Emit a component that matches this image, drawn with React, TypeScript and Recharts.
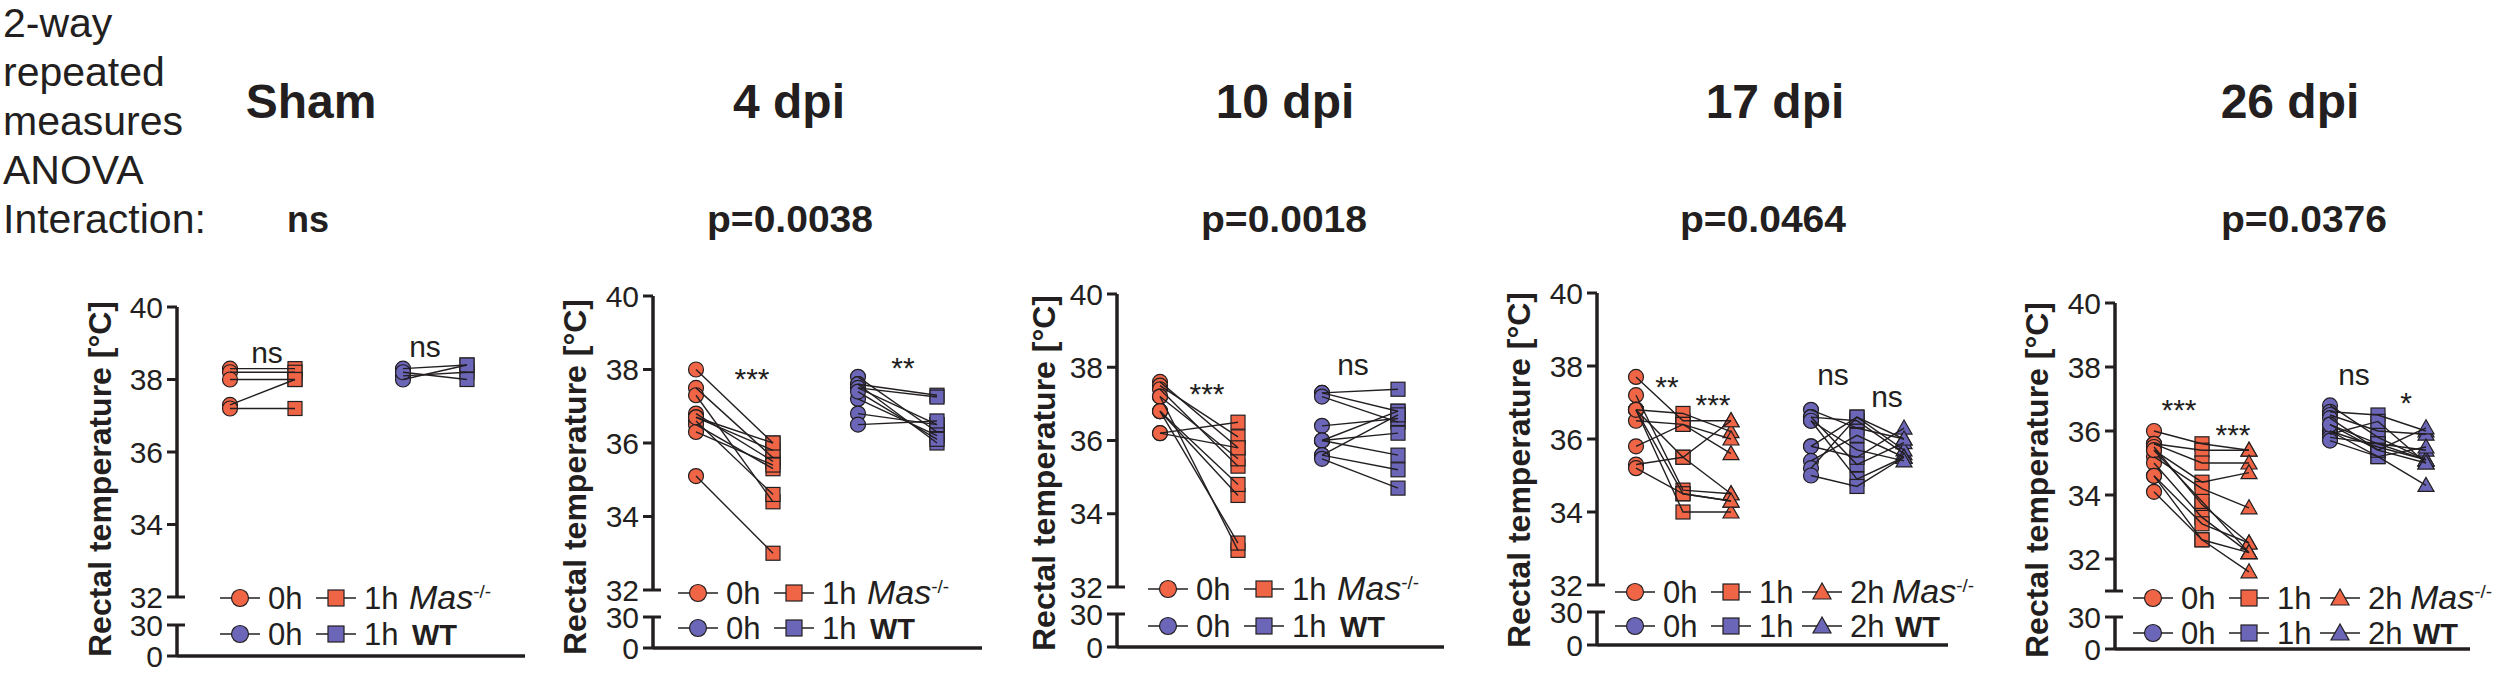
import React from "react";
import { ComposedChart, Scatter, XAxis, YAxis, ReferenceLine, ReferenceDot } from "recharts";

// ---- data (°C) ----
const panelTitles = ["Sham", "4 dpi", "10 dpi", "17 dpi", "26 dpi"];
const interactionP = ["ns", "p=0.0038", "p=0.0018", "p=0.0464", "p=0.0376"];
const anovaLines = ["2-way", "repeated", "measures", "ANOVA", "Interaction:"];
const timePoints2 = ["0h", "1h"];
const timePoints3 = ["0h", "1h", "2h"];
const upperTicks = [32, 34, 36, 38, 40];
const upperTicks26 = [31, 32, 34, 36, 38, 40];
const lowerTicks = [0, 30];

// one row per animal, one value per time point
const shamMas = [[38.3, 38.3], [38.2, 38.2], [38.0, 38.0], [37.3, 38.0], [37.2, 37.2]];
const shamWt = [[38.3, 38.4], [38.1, 38.2], [38.0, 38.4], [38.2, 38.0]];
const dpi4Mas = [[38.0, 36.0], [37.5, 35.6], [37.3, 34.4], [36.8, 35.5], [36.7, 35.8], [36.6, 34.6], [36.5, 35.3], [36.3, 35.4], [36.7, 36.0], [35.1, 33.0]];
const dpi4Wt = [[37.8, 36.3], [37.6, 37.3], [37.5, 36.5], [37.6, 36.0], [37.2, 36.2], [36.8, 36.5], [36.5, 36.6], [37.5, 37.25], [37.4, 36.1]];
const dpi10Mas = [[37.6, 35.8], [37.5, 36.1], [37.4, 35.3], [37.2, 35.5], [37.2, 33.0], [36.8, 34.5], [36.8, 33.2], [36.8, 34.8], [36.2, 36.5], [36.2, 35.8]];
const dpi10Wt = [[37.3, 37.4], [37.3, 36.8], [37.2, 36.5], [36.4, 36.6], [36.0, 36.8], [36.0, 36.2], [36.0, 35.6], [35.6, 36.7], [35.6, 35.2], [35.5, 34.7]];
const dpi17Mas = [[37.7, 36.5, 36.5], [37.2, 34.6, 34.5], [36.8, 36.7, 36.2], [36.8, 34.5, 34.3], [36.8, 34.0, 34.0], [36.5, 36.4, 35.6], [36.8, 35.5, 36.5], [35.8, 36.4, 36.0], [35.3, 35.5, 34.5], [35.2, 34.5, 34.3]];
const dpi17Wt = [[36.8, 36.3, 36.0], [36.6, 36.5, 35.6], [36.5, 34.9, 35.5], [36.6, 35.3, 35.9], [35.8, 36.6, 35.7], [35.8, 35.5, 36.3], [35.4, 36.1, 35.5], [35.2, 36.6, 36.0], [35.0, 34.7, 35.5], [36.5, 35.7, 35.4]];
const dpi26Mas = [[36.0, 35.6, 35.4], [35.6, 35.4, 35.4], [35.6, 35.0, 35.0], [35.4, 34.4, 34.7], [35.5, 33.7, 32.5], [35.2, 34.2, 33.6], [35.0, 33.3, 32.2], [34.6, 33.1, 32.5], [34.6, 32.6, 32.2], [34.1, 32.6, 31.6], [35.4, 33.8, 32.2]];
const dpi26Wt = [[36.8, 35.8, 35.1], [36.6, 36.5, 36.0], [36.5, 36.0, 35.9], [36.4, 35.4, 36.1], [36.2, 35.6, 35.4], [36.0, 35.5, 35.1], [36.0, 35.2, 34.3], [35.9, 36.3, 35.0], [35.8, 35.6, 35.1], [35.7, 35.2, 35.5], [36.2, 35.4, 35.0]];

const shamSig = ["ns", "ns"];
const dpi4Sig = ["***", "**"];
const dpi10Sig = ["***", "ns"];
const dpi17Sig = ["**", "***", "ns", "ns"];
const dpi26Sig = ["***", "***", "ns", "*"];

// ---- styling / layout ----
const FONT = '"Liberation Sans", Arial, Helvetica, sans-serif';
const INK = "#231f20";
const ORANGE = "#ef6546";
const PURPLE = "#6b66b8";
const YW = 70;
const PAD = 20;

const panels = [
  { mas: shamMas, wt: shamWt, sig: shamSig, times: timePoints2, ticks: upperTicks, yMin: 32,
    axisX: 177, y40: 307, yLow: 597, y30: 625, y0: 656, W: 348, masX: [53, 118], wtX: [226, 290],
    legendL: 240, rows: [598, 634], labelX: 111, labelY: 479, sigAt: [[90, 38.76], [248, 38.92]], titleX: 311, pX: 308 },
  { mas: dpi4Mas, wt: dpi4Wt, sig: dpi4Sig, times: timePoints2, ticks: upperTicks, yMin: 32,
    axisX: 653, y40: 296, yLow: 590, y30: 617, y0: 648, W: 329, masX: [43, 120], wtX: [205, 284],
    legendL: 698, rows: [593, 628], labelX: 586, labelY: 477, sigAt: [[99, 37.77], [250, 38.07]], titleX: 789, pX: 790 },
  { mas: dpi10Mas, wt: dpi10Wt, sig: dpi10Sig, times: timePoints2, ticks: upperTicks, yMin: 32,
    axisX: 1117, y40: 294, yLow: 587, y30: 614, y0: 647, W: 327, masX: [43, 121], wtX: [205, 281],
    legendL: 1168, rows: [589, 626], labelX: 1055, labelY: 473, sigAt: [[90, 37.3], [236, 38.09]], titleX: 1285, pX: 1284 },
  { mas: dpi17Mas, wt: dpi17Wt, sig: dpi17Sig, times: timePoints3, ticks: upperTicks, yMin: 32,
    axisX: 1597, y40: 293, yLow: 585, y30: 612, y0: 645, W: 351, masX: [39, 86, 134], wtX: [214, 260, 307],
    legendL: 1635, rows: [592, 626], labelX: 1530, labelY: 470, sigAt: [[70, 37.44], [116, 36.96], [236, 37.78], [290, 37.18]], titleX: 1775, pX: 1763 },
  { mas: dpi26Mas, wt: dpi26Wt, sig: dpi26Sig, times: timePoints3, ticks: upperTicks26, yMin: 31,
    axisX: 2115, y40: 303, yLow: 591, y30: 617, y0: 649, W: 355, masX: [39, 87, 134], wtX: [215, 263, 311],
    legendL: 2153, rows: [598, 633], labelX: 2048, labelY: 480, sigAt: [[64, 36.69], [118, 35.88], [239, 37.78], [291, 36.88]], titleX: 2290, pX: 2304 },
];

function Marker({ kind, cx, cy, fill, s }) {
  if (kind === 0) return <circle cx={cx} cy={cy} r={s + 0.5} fill={fill} stroke={INK} strokeWidth={1.2} />;
  if (kind === 1) return <rect x={cx - s} y={cy - s} width={2 * s} height={2 * s} fill={fill} stroke={INK} strokeWidth={1.2} />;
  return <polygon points={`${cx},${cy - s - 1} ${cx - s - 1},${cy + s - 1} ${cx + s + 1},${cy + s - 1}`} fill={fill} stroke={INK} strokeWidth={1.2} />;
}

const shapeFor = (kind, fill) => (p) => <Marker kind={kind} cx={p.cx} cy={p.cy} fill={fill} s={7} />;
const noShape = () => <g />;

const axisProps = {
  type: "number",
  dataKey: "y",
  width: YW,
  tickSize: 10,
  tickMargin: 4,
  interval: 0,
  axisLine: { stroke: INK, strokeWidth: 3.5 },
  tickLine: { stroke: INK, strokeWidth: 3 },
  tick: { fill: INK, fontSize: 30, fontFamily: FONT },
};

function Panel({ p }) {
  const groups = [
    { animals: p.mas, xs: p.masX, color: ORANGE },
    { animals: p.wt, xs: p.wtX, color: PURPLE },
  ];
  const chartW = YW + p.W + PAD;
  // the break section (0-30) reuses the 0h readings so the lower chart has a series to lay out its axes
  const baseRow = p.mas.map((a) => ({ x: p.masX[0], y: a[0] }));
  return (
    <>
      <div style={{ position: "absolute", left: p.axisX - YW, top: p.y40 - PAD }}>
        <ComposedChart width={chartW} height={p.yLow - p.y40 + 2 * PAD} margin={{ top: PAD, right: PAD, bottom: PAD, left: 0 }}>
          <XAxis type="number" dataKey="x" domain={[0, p.W]} hide />
          <YAxis {...axisProps} domain={[p.yMin, 40]} ticks={p.ticks} tickFormatter={(v) => (v === 31 ? "" : String(v))} />
          <ReferenceLine segment={[{ x: 0, y: p.yMin }, { x: 8, y: p.yMin }]} stroke={INK} strokeWidth={3} />
          {groups.map((g, gi) =>
            p.times.map((t, ti) => (
              <Scatter
                key={`m${gi}${t}`}
                data={g.animals.map((a) => ({ x: g.xs[ti], y: a[ti] }))}
                shape={shapeFor(ti, g.color)}
                isAnimationActive={false}
              />
            ))
          )}
          {groups.map((g, gi) =>
            g.animals.map((a, ai) => (
              <Scatter
                key={`l${gi}-${ai}`}
                data={a.map((v, ti) => ({ x: g.xs[ti], y: v }))}
                line={{ stroke: INK, strokeWidth: 1.4 }}
                shape={noShape}
                isAnimationActive={false}
              />
            ))
          )}
          {p.sig.map((s, i) => (
            <ReferenceDot
              key={`s${i}`}
              x={p.sigAt[i][0]}
              y={p.sigAt[i][1]}
              r={1}
              fill="none"
              stroke="none"
              label={{ value: s, position: "center", fill: INK, fontSize: 30, fontFamily: FONT }}
            />
          ))}
        </ComposedChart>
      </div>
      <div style={{ position: "absolute", left: p.axisX - YW, top: p.y30 - PAD }}>
        <ComposedChart width={chartW} height={p.y0 - p.y30 + 2 * PAD} margin={{ top: PAD, right: PAD, bottom: PAD - 1, left: 0 }}>
          <XAxis type="number" dataKey="x" domain={[0, p.W]} height={1} tick={false} tickLine={false} axisLine={{ stroke: INK, strokeWidth: 3.5 }} />
          <YAxis {...axisProps} domain={[0, 30]} ticks={lowerTicks} allowDataOverflow />
          <Scatter data={baseRow} shape={noShape} isAnimationActive={false} />
          <ReferenceLine segment={[{ x: 0, y: 30 }, { x: 8, y: 30 }]} stroke={INK} strokeWidth={3} />
        </ComposedChart>
      </div>
    </>
  );
}

function LegendRows({ p }) {
  const three = p.times.length === 3;
  const step = [0, 96, 187];
  const labelOff = three ? 257 : 169;
  return (
    <g fontFamily={FONT} fill={INK} fontSize={31}>
      {[ORANGE, PURPLE].map((c, ri) => {
        const cy = p.rows[ri];
        return (
          <g key={ri}>
            {p.times.map((t, ti) => {
              const cx = p.legendL + step[ti];
              return (
                <g key={t}>
                  <line x1={cx - 20} x2={cx + 20} y1={cy} y2={cy} stroke={INK} strokeWidth={1.5} />
                  <Marker kind={ti} cx={cx} cy={cy} fill={c} s={8} />
                  <text x={cx + 28} y={cy + 11}>{t}</text>
                </g>
              );
            })}
            {ri === 0 ? (
              <text x={p.legendL + labelOff} y={cy + 11} fontStyle="italic" fontSize={34}>
                Mas<tspan fontSize={19} dy={-11} fontStyle="normal">-/-</tspan>
              </text>
            ) : (
              <text x={p.legendL + labelOff + 3} y={cy + 11} fontWeight="bold" fontSize={29}>WT</text>
            )}
          </g>
        );
      })}
    </g>
  );
}

export default function App() {
  return (
    <div style={{ position: "absolute", left: 0, top: 0, width: 2500, height: 681, background: "#fff", overflow: "hidden" }}>
      {panels.map((p, i) => (
        <Panel key={i} p={p} />
      ))}
      <svg width={2500} height={681} style={{ position: "absolute", left: 0, top: 0, pointerEvents: "none" }}>
        <g fontFamily={FONT} fill={INK}>
          {anovaLines.map((t, i) => (
            <text key={t} x={3} y={37 + i * 49} fontSize={41}>{t}</text>
          ))}
          {panels.map((p, i) => (
            <g key={i}>
              <text x={p.titleX} y={118} fontSize={48} fontWeight="bold" textAnchor="middle">{panelTitles[i]}</text>
              {i === 0 ? (
                <text x={p.pX} y={232} fontSize={36} fontWeight="bold" textAnchor="middle">{interactionP[i]}</text>
              ) : (
                <text x={p.pX} y={232} fontSize={36} fontWeight="bold" textAnchor="middle" textLength={166} lengthAdjust="spacingAndGlyphs">{interactionP[i]}</text>
              )}
              <text x={p.labelX} y={p.labelY} fontSize={32} fontWeight="bold" textAnchor="middle" transform={`rotate(-90 ${p.labelX} ${p.labelY})`}>
                Rectal temperature [°C]
              </text>
              <LegendRows p={p} />
            </g>
          ))}
        </g>
      </svg>
    </div>
  );
}
